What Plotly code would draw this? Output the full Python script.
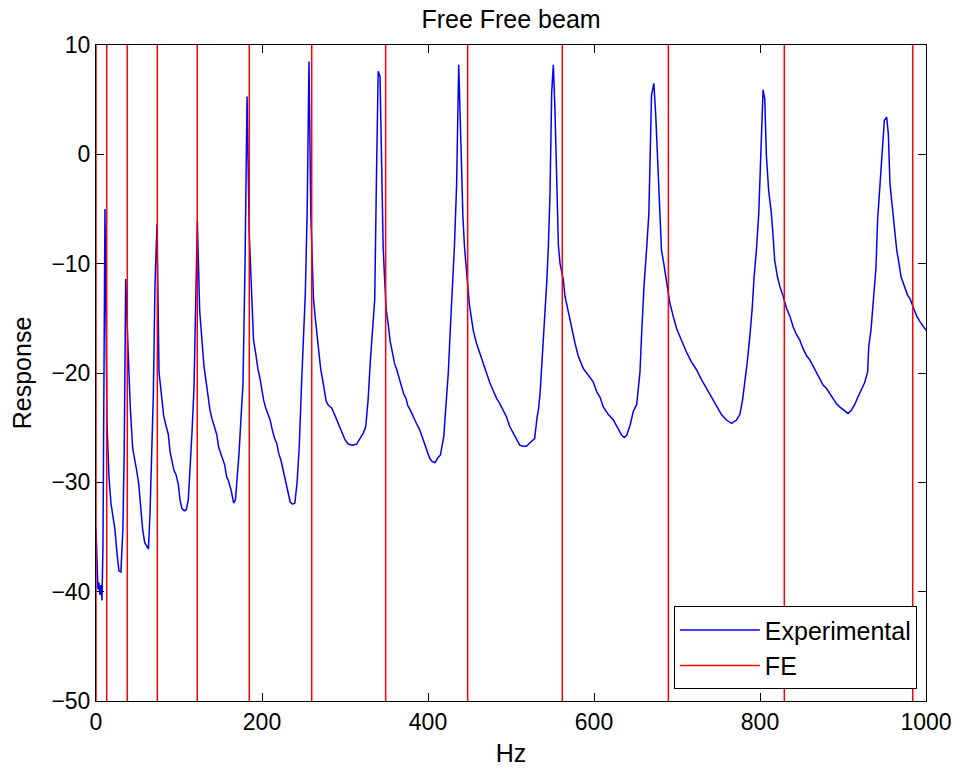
import plotly.graph_objects as go

freq_hz = [0, 1.2, 2.4, 3.6, 4.8, 6.0, 7.2, 8.4, 10.8, 13.2, 15.6, 18.0, 20.4, 22.8, 25.2, 27.6, 30.0, 32.4, 34.0, 35.8,
           38.6, 41.4, 44.2, 46.6, 49.0, 51.4, 53.8, 56.2, 58.6, 61.4, 63.2, 65.1, 67.1, 69.1, 71.1, 73.5, 75.9, 78.7, 81.5, 84.3,
           87.1, 89.2, 91.6, 93.9, 96.4, 99.2, 101.2, 103.6, 106.4, 108.8, 111.2, 113.3, 115.7, 118.1, 120.0, 122.1, 124.9, 127.7, 130.1, 132.5,
           135.3, 137.3, 139.8, 142.6, 145.4, 147.8, 150.2, 152.6, 155.0, 157.4, 159.8, 162.7, 165.9, 168.0, 170.0, 172.3, 174.7, 177.1, 179.5, 182.0,
           184.6, 187.5, 189.8, 192.4, 195.0, 197.6, 199.8, 202.0, 204.5, 207.2, 209.8, 212.4, 215.2, 217.6, 220.3, 222.9, 225.6, 228.4, 231.2, 234.0,
           236.8, 239.6, 242.3, 244.9, 247.6, 249.8, 252.2, 254.4, 256.6, 258.8, 260.2, 262.0, 264.2, 266.2, 268.4, 270.8, 273.0, 275.0, 277.4, 280.4,
           284.0, 288.0, 292.0, 296.0, 300.0, 304.0, 309.0, 314.0, 318.0, 322.0, 325.0, 327.8, 330.6, 333.2, 335.8, 337.8, 340.0, 342.2, 344.4, 346.0,
           347.6, 349.6, 352.0, 354.4, 356.8, 359.6, 362.4, 365.3, 367.8, 370.6, 373.4, 375.8, 378.6, 382.0, 386.0, 390.0, 394.0, 398.0, 402.0, 405.0,
           408.5, 411.5, 415.0, 419.0, 422.0, 424.5, 427.0, 429.5, 431.8, 434.5, 437.0, 439.8, 442.0, 444.0, 446.0, 448.0, 450.0, 452.0, 454.5, 458.5,
           462.5, 466.5, 470.5, 474.5, 478.5, 482.5, 486.5, 490.5, 494.5, 498.5, 502.5, 506.5, 510.5, 514.5, 518.5, 522.5, 528.5, 531.5, 533.0, 535.0,
           537.0, 539.0, 541.0, 543.0, 545.0, 547.0, 549.0, 551.0, 553.0, 555.0, 557.1, 559.1, 563.1, 565.1, 569.1, 573.2, 577.2, 581.2, 587.2, 593.2,
           599.0, 603.2, 607.2, 611.2, 617.3, 623.3, 629.3, 633.4, 636.4, 639.4, 643.4, 647.4, 651.4, 653.4, 655.4, 657.4, 660.2, 663.3, 666.1, 669.3,
           672.1, 674.5, 677.3, 679.3, 681.3, 684.1, 687.4, 691.4, 695.4, 699.4, 705.4, 711.5, 717.5, 723.5, 729.5, 735.5, 741.6, 747.6, 753.6, 759.6,
           765.7, 771.7, 775.7, 778.9, 781.7, 784.5, 787.7, 790.5, 792.9, 795.7, 798.5, 800.9, 803.7, 805.7, 807.7, 810.4, 813.7, 815.7, 817.7, 821.0,
           824.0, 828.0, 832.0, 836.0, 840.0, 844.0, 848.0, 852.0, 856.0, 860.0, 864.0, 868.0, 872.0, 876.0, 880.0, 884.0, 888.0, 892.0, 896.0, 901.0,
           906.0, 910.0, 914.0, 918.0, 922.0, 926.0, 929.7, 931.0, 933.7, 935.7, 937.7, 939.7, 941.7, 944.6, 947.4, 949.8, 952.6, 954.6, 956.6, 959.4,
           961.8, 964.7, 967.5, 969.9, 972.7, 975.5, 977.9, 980.7, 982.7, 985.5, 988.8, 992.8, 996.8, 1000.0]

response = [-34.2, -38.1, -39.8, -39.2, -40.3, -39.4, -40.8, -35.8, -5.0, -24.5, -29.5, -31.9, -33.1, -34.3, -36.4, -38.1, -38.2, -34.3, -27.1, -11.4,
            -17.8, -23.3, -26.9, -27.8, -28.9, -30.1, -32.5, -34.3, -35.5, -35.8, -36.1, -32.8, -28.3, -21.9, -11.8, -6.4, -19.9, -22.1, -23.9, -24.8,
            -25.6, -27.2, -28.0, -28.9, -29.3, -30.2, -31.6, -32.4, -32.6, -32.5, -31.6, -29.0, -25.4, -21.3, -14.3, -6.1, -14.3, -17.3, -19.4, -20.7,
            -22.5, -23.4, -24.2, -24.8, -25.6, -26.8, -27.4, -27.9, -28.4, -29.5, -29.9, -30.7, -31.9, -31.6, -29.9, -27.4, -24.1, -21.0, -10.4, 5.3,
            -7.2, -12.3, -17.0, -18.2, -19.6, -20.5, -21.6, -22.5, -23.2, -23.8, -24.3, -25.2, -26.0, -26.4, -27.4, -28.0, -29.0, -29.8, -31.0, -31.8,
            -32.0, -31.9, -30.0, -26.7, -21.1, -17.6, -12.7, -5.4, 8.5, -5.4, -10.1, -13.2, -15.0, -16.4, -18.2, -19.7, -20.6, -21.6, -22.6, -23.0,
            -23.2, -23.9, -24.6, -25.4, -26.1, -26.5, -26.6, -26.5, -26.0, -25.5, -24.9, -22.5, -18.8, -16.2, -13.3, -2.7, 7.6, 7.1, -2.9, -8.5,
            -11.2, -14.2, -15.5, -17.1, -18.0, -19.1, -19.7, -20.5, -21.1, -21.9, -22.3, -23.0, -23.4, -24.0, -24.6, -25.2, -26.1, -27.0, -27.8, -28.1,
            -28.2, -27.8, -27.5, -25.8, -22.8, -19.9, -15.8, -12.3, -8.5, -2.7, 8.2, 0.7, -5.6, -8.5, -10.6, -12.1, -13.8, -14.8, -16.1, -17.3,
            -18.2, -19.1, -20.2, -20.9, -21.6, -22.3, -22.8, -23.4, -24.0, -24.9, -25.5, -26.0, -26.6, -26.7, -26.7, -26.4, -26.0, -24.0, -23.4, -21.9,
            -19.6, -17.3, -14.8, -11.8, -8.5, -3.6, 5.6, 8.2, 4.0, -3.6, -8.3, -10.0, -11.5, -13.0, -14.5, -16.1, -17.3, -18.5, -19.6, -20.2,
            -20.8, -21.7, -22.2, -23.1, -23.8, -24.3, -25.1, -25.7, -25.9, -25.7, -24.8, -23.5, -22.9, -21.6, -19.9, -16.4, -12.1, -8.75, -5.4, 5.4,
            6.5, 3.4, -2.2, -5.3, -8.75, -10.0, -11.8, -13.6, -14.8, -15.9, -17.0, -18.1, -19.0, -19.7, -20.6, -21.4, -22.3, -23.1, -23.8, -24.3,
            -24.6, -24.3, -23.8, -22.5, -20.9, -19.1, -16.7, -14.2, -11.2, -8.75, -5.4, -0.2, 5.9, 5.1, -0.1, -3.3, -5.4, -7.4, -9.7, -11.2,
            -12.1, -13.0, -14.1, -14.8, -15.8, -16.5, -17.0, -17.8, -18.4, -18.8, -19.4, -19.9, -20.5, -21.1, -21.4, -21.9, -22.3, -22.8, -23.1, -23.4,
            -23.7, -23.4, -22.9, -22.2, -21.6, -20.9, -19.9, -17.6, -16.1, -14.4, -12.7, -10.4, -6.0, -2.7, 0.7, 3.1, 3.4, 1.9, -2.7, -4.8,
            -6.6, -8.75, -10.0, -11.2, -11.8, -12.3, -12.9, -13.2, -13.6, -14.1, -14.8, -15.3, -15.8, -16.1]

# FE natural frequencies (Hz)
fe_freqs = [0, 12.9, 37.7, 73.9, 122.0, 184.7, 259.9, 349.0, 447.8, 561.8, 689.6, 829.3, 984.0]

x_range = [0, 1000]
y_range = [-50, 10]
x_ticks = [0, 200, 400, 600, 800, 1000]
y_ticks = [-50, -40, -30, -20, -10, 0, 10]

fe_x, fe_y = [], []
for f in fe_freqs:
    fe_x += [f, f, None]
    fe_y += [y_range[0], y_range[1], None]

FONT = "Liberation Sans, Arial, sans-serif"

fig = go.Figure()
fig.add_trace(go.Scatter(x=freq_hz, y=response, mode="lines", name="Experimental",
                         line=dict(color="#0000ff", width=1.5)))
fig.add_trace(go.Scatter(x=fe_x, y=fe_y, mode="lines", name="FE",
                         line=dict(color="#ff0000", width=1.5), connectgaps=False))

axis_common = dict(showline=True, linecolor="black", linewidth=1, mirror="ticks",
                   ticks="inside", ticklen=8, tickcolor="black", tickwidth=1,
                   showgrid=False, zeroline=False,
                   tickfont=dict(family=FONT, size=23, color="black"))

fig.update_layout(
    width=956, height=774,
    margin=dict(l=96, r=30, t=45, b=73, autoexpand=False),
    paper_bgcolor="white", plot_bgcolor="white",
    title=dict(text="Free Free beam", x=0.5, xref="paper", xanchor="center",
               y=0.9755, yref="container", yanchor="middle",
               font=dict(family=FONT, size=25, color="black")),
    xaxis=dict(range=x_range, tickvals=x_ticks, layer="below traces",
               title=dict(text="Hz", font=dict(family=FONT, size=25, color="black"), standoff=10),
               **axis_common),
    yaxis=dict(range=y_range, tickvals=y_ticks, layer="below traces",
               title=dict(text="Response", font=dict(family=FONT, size=25, color="black"), standoff=12),
               **axis_common),
    legend=dict(x=0.989, y=0.018, xanchor="right", yanchor="bottom",
                bgcolor="white", bordercolor="black", borderwidth=1,
                font=dict(family=FONT, size=25, color="black"),
                itemwidth=80, tracegroupgap=0),
    showlegend=True,
)

fig.write_html("out.html")
